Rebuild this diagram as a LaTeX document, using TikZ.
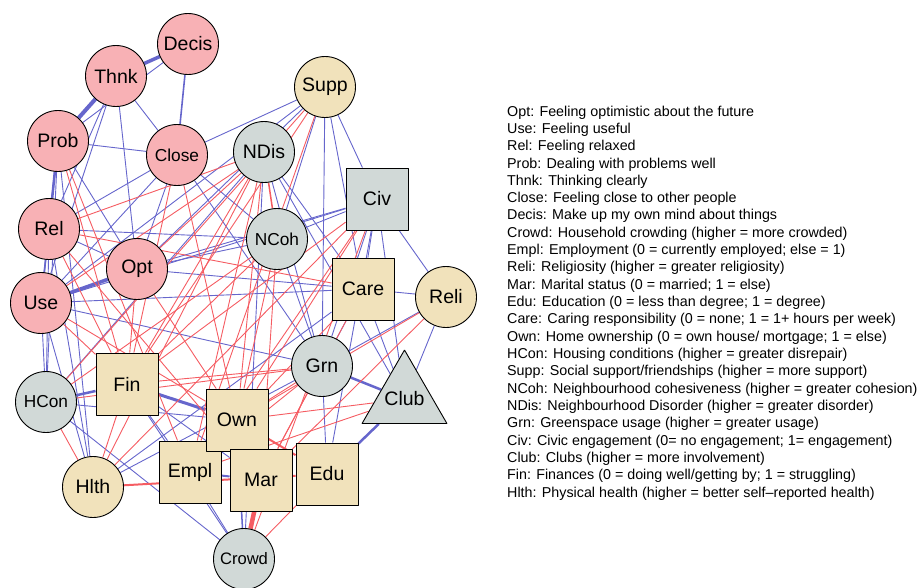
\documentclass[tikz,border=0pt]{standalone}
\usepackage{fontspec}
\setmainfont{Liberation Sans}
\usetikzlibrary{shapes.geometric,backgrounds}
\definecolor{moodpink}{RGB}{248,177,181}
\definecolor{sandfill}{RGB}{241,226,187}
\definecolor{greyfill}{RGB}{209,217,215}
\definecolor{posblue}{RGB}{102,102,204}
\definecolor{negred}{RGB}{245,92,98}
\newcommand{\nodefont}{\fontsize{19.5}{22}\selectfont}
\newcommand{\smallnodefont}{\fontsize{17.3}{20}\selectfont}
\begin{document}
\begin{tikzpicture}[x=1pt,y=-1pt,line join=bevel]
  \tikzstyle{circ}=[circle,draw=black,line width=0.9pt,minimum size=61pt,inner sep=0pt,font=\nodefont]
  \tikzstyle{sq}=[rectangle,draw=black,line width=0.9pt,minimum size=62pt,inner sep=0pt,font=\nodefont]
  \tikzstyle{tri}=[regular polygon,regular polygon sides=3,draw=black,line width=0.9pt,minimum size=98pt,inner sep=0pt,font=\nodefont]
  \tikzstyle{mood}=[circ,fill=moodpink]
  \tikzstyle{rescirc}=[circ,fill=sandfill]
  \tikzstyle{ressq}=[sq,fill=sandfill]
  \tikzstyle{envcirc}=[circ,fill=greyfill]
  \tikzstyle{envsq}=[sq,fill=greyfill]
  \tikzstyle{envtri}=[tri,fill=greyfill]
  \tikzstyle{posedge}=[draw=posblue,line width=0.9pt]
  \tikzstyle{negedge}=[draw=negred,line width=0.9pt]
  \useasboundingbox (0,0) rectangle (919,587);
  % wellbeing items
  \node[mood] (Decis) at (188,44)  {Decis};
  \node[mood] (Thnk)  at (116,76)  {Thnk};
  \node[mood] (Prob)  at (58,141)  {Prob};
  \node[mood,font=\smallnodefont] (Close) at (177,155) {Close};
  \node[mood] (Rel)   at (49,229)  {Rel};
  \node[mood] (Opt)   at (137,269) {Opt};
  \node[mood] (Use)   at (41,303)  {Use};
  % individual / social
  \node[rescirc] (Supp) at (325,87)  {Supp};
  \node[rescirc] (Reli) at (446,297) {Reli};
  \node[rescirc] (Hlth) at (93,487)  {Hlth};
  \node[ressq] (Care) at (363,289) {Care};
  \node[ressq] (Fin)  at (127,384) {Fin};
  \node[ressq] (Empl) at (190,472) {Empl};
  \node[ressq] (Own)  at (237,420) {Own};
  \node[ressq] (Mar)  at (261,480) {Mar};
  \node[ressq] (Edu)  at (327,474) {Edu};
  % neighbourhood
  \node[envcirc] (NDis) at (264,152) {NDis};
  \node[envcirc,font=\smallnodefont] (NCoh) at (277,239) {NCoh};
  \node[envcirc] (Grn)  at (322,366) {Grn};
  \node[envcirc,font=\smallnodefont] (HCon) at (46,402) {HCon};
  \node[envcirc,font=\fontsize{16.6}{19}\selectfont] (Crowd) at (244,559) {Crowd};
  \node[envsq] (Civ) at (377,199) {Civ};
  \node[envtri] (Club) at (404.5,399) {\makebox[0pt]{\smash{\raisebox{-0.35em}{Club}}}};
  % legend
  \node[anchor=north west,inner sep=0pt,align=left,font=\fontsize{14.3}{17.32}\selectfont] (legend) at (507,105.5) {%
    Opt: Feeling optimistic about the future\\
    Use: Feeling useful\\
    Rel: Feeling relaxed\\
    Prob: Dealing with problems well\\
    Thnk: Thinking clearly\\
    Close: Feeling close to other people\\
    Decis: Make up my own mind about things\\
    Crowd: Household crowding (higher = more crowded)\\
    Empl: Employment (0 = currently employed; else = 1)\\
    Reli: Religiosity (higher = greater religiosity)\\
    Mar: Marital status (0 = married; 1 = else)\\
    Edu: Education (0 = less than degree; 1 = degree)\\
    Care: Caring responsibility (0 = none; 1 = 1+ hours per week)\\
    Own: Home ownership (0 = own house/ mortgage; 1 = else)\\
    HCon: Housing conditions (higher = greater disrepair)\\
    Supp: Social support/friendships (higher = more support)\\
    NCoh: Neighbourhood cohesiveness (higher = greater cohesion)\\
    NDis: Neighbourhood Disorder (higher = greater disorder)\\
    Grn: Greenspace usage (higher = greater usage)\\
    Civ: Civic engagement (0= no engagement; 1= engagement)\\
    Club: Clubs (higher = more involvement)\\
    Fin: Finances (0 = doing well/getting by; 1 = struggling)\\
    Hlth: Physical health (higher = better self\textendash reported health)};
  \begin{scope}[on background layer]
  % positive edges
  \draw[posedge,line width=3.5pt] (Thnk) -- (Decis);
  \draw[posedge,line width=4pt] (Thnk) -- (Prob);
  \draw[posedge,line width=1.6pt] (Decis) -- (Close);
  \draw[posedge] (Decis) -- (Prob);
  \draw[posedge] (Thnk) -- (Close);
  \draw[posedge] (Prob) -- (Close);
  \draw[posedge,line width=2.5pt] (Prob) -- (Rel);
  \draw[posedge,line width=1.5pt] (Prob) -- (Use);
  \draw[posedge] (Prob) -- (Opt);
  \draw[posedge] (Thnk) -- (Rel);
  \draw[posedge] (Thnk) -- (Use);
  \draw[posedge] (Thnk) -- (Opt);
  \draw[posedge,line width=1.5pt] (Rel) -- (Use);
  \draw[posedge] (Rel) -- (Opt);
  \draw[posedge,line width=3.5pt] (Use) -- (Opt);
  \draw[posedge] (Close) -- (Opt);
  \draw[posedge] (Close) -- (Rel);
  \draw[posedge] (Close) -- (Use);
  \draw[posedge] (Close) -- (NCoh);
  \draw[posedge] (Close) -- (Grn);
  \draw[posedge] (Close) -- (Supp);
  \draw[posedge] (Supp) -- (Grn);
  \draw[posedge] (Supp) -- (Civ);
  \draw[posedge] (Supp) -- (NCoh);
  \draw[posedge] (Supp) -- (Use);
  \draw[posedge] (Supp) -- (Opt);
  \draw[posedge] (Supp) -- (Care);
  \draw[posedge] (NDis) -- (Grn);
  \draw[posedge] (NDis) -- (HCon);
  \draw[posedge] (NDis) -- (Care);
  \draw[posedge] (NDis) -- (Club);
  \draw[posedge] (NDis) -- (Crowd);
  \draw[posedge] (NCoh) -- (Civ);
  \draw[posedge] (NCoh) -- (Opt);
  \draw[posedge] (NCoh) -- (Grn);
  \draw[posedge] (NCoh) -- (Rel);
  \draw[posedge] (Civ) -- (Care);
  \draw[posedge] (Civ) -- (Club);
  \draw[posedge] (Civ) -- (Grn);
  \draw[posedge] (Civ) -- (Reli);
  \draw[posedge] (Civ) -- (Edu);
  \draw[posedge] (Civ) -- (Opt);
  \draw[posedge] (Civ) -- (Use);
  \draw[posedge] (Care) -- (Reli);
  \draw[posedge] (Care) -- (Club);
  \draw[posedge] (Care) -- (Grn);
  \draw[posedge] (Care) -- (Opt);
  \draw[posedge] (Care) -- (Hlth);
  \draw[posedge] (Care) -- (Use);
  \draw[posedge] (Reli) -- (Club);
  \draw[posedge] (Reli) -- (Grn);
  \draw[posedge,line width=2.5pt] (Grn) -- (Club);
  \draw[posedge] (Grn) -- (Hlth);
  \draw[posedge] (Grn) -- (Edu);
  \draw[posedge] (Grn) -- (Use);
  \draw[posedge,line width=2.5pt] (Club) -- (Edu);
  \draw[posedge,line width=3pt] (Fin) -- (Own);
  \draw[posedge,line width=2.5pt] (Fin) -- (HCon);
  \draw[posedge] (Fin) -- (Empl);
  \draw[posedge] (Fin) -- (Mar);
  \draw[posedge] (Fin) -- (Crowd);
  \draw[posedge] (HCon) -- (Use);
  \draw[posedge] (HCon) -- (Rel);
  \draw[posedge] (HCon) -- (Prob);
  \draw[posedge] (HCon) -- (Own);
  \draw[posedge] (HCon) -- (Crowd);
  \draw[posedge] (Hlth) -- (Rel);
  \draw[posedge] (Hlth) -- (Prob);
  \draw[posedge] (Hlth) -- (Use);
  \draw[posedge] (Empl) -- (Own);
  \draw[posedge] (Empl) -- (Crowd);
  \draw[posedge,line width=2pt] (Empl) -- (Mar);
  \draw[posedge,line width=1.5pt] (Own) -- (Crowd);
  % negative edges
  \draw[negedge] (Close) -- (Fin);
  \draw[negedge] (Close) -- (Own);
  \draw[negedge] (Supp) -- (Fin);
  \draw[negedge] (Supp) -- (HCon);
  \draw[negedge] (Supp) -- (Empl);
  \draw[negedge,line width=1.5pt] (NDis) -- (NCoh);
  \draw[negedge] (NDis) -- (Fin);
  \draw[negedge] (NDis) -- (Hlth);
  \draw[negedge] (NDis) -- (Empl);
  \draw[negedge] (NDis) -- (Own);
  \draw[negedge] (NDis) -- (Opt);
  \draw[negedge] (NDis) -- (Use);
  \draw[negedge] (NDis) -- (Rel);
  \draw[negedge] (NCoh) -- (Own);
  \draw[negedge] (NCoh) -- (Fin);
  \draw[negedge] (NCoh) -- (Mar);
  \draw[negedge] (NCoh) -- (HCon);
  \draw[negedge] (Civ) -- (Fin);
  \draw[negedge] (Civ) -- (Empl);
  \draw[negedge] (Civ) -- (Own);
  \draw[negedge] (Civ) -- (Hlth);
  \draw[negedge] (Civ) -- (Crowd);
  \draw[negedge] (Care) -- (Rel);
  \draw[negedge] (Care) -- (Empl);
  \draw[negedge] (Care) -- (Mar);
  \draw[negedge] (Reli) -- (Own);
  \draw[negedge] (Reli) -- (Mar);
  \draw[negedge] (Grn) -- (Own);
  \draw[negedge] (Grn) -- (Mar);
  \draw[negedge] (Grn) -- (Empl);
  \draw[negedge] (Grn) -- (Fin);
  \draw[negedge] (Grn) -- (HCon);
  \draw[negedge] (Club) -- (Own);
  \draw[negedge] (Club) -- (Empl);
  \draw[negedge] (Fin) -- (Hlth);
  \draw[negedge] (Fin) -- (Opt);
  \draw[negedge] (Fin) -- (Use);
  \draw[negedge] (Fin) -- (Rel);
  \draw[negedge] (Fin) -- (Prob);
  \draw[negedge] (Prob) -- (Empl);
  \draw[negedge] (Rel) -- (Mar);
  \draw[negedge] (Opt) -- (Own);
  \draw[negedge] (Use) -- (Own);
  \draw[negedge] (HCon) -- (Hlth);
  \draw[negedge] (Edu) -- (Crowd);
  \draw[negedge,line width=4.5pt] (Mar) -- (Crowd);
  \draw[negedge,line width=2pt] (Own) -- (Edu);
  \draw[negedge,line width=2pt] (Hlth) -- (Edu);
  \end{scope}
\end{tikzpicture}
\end{document}
